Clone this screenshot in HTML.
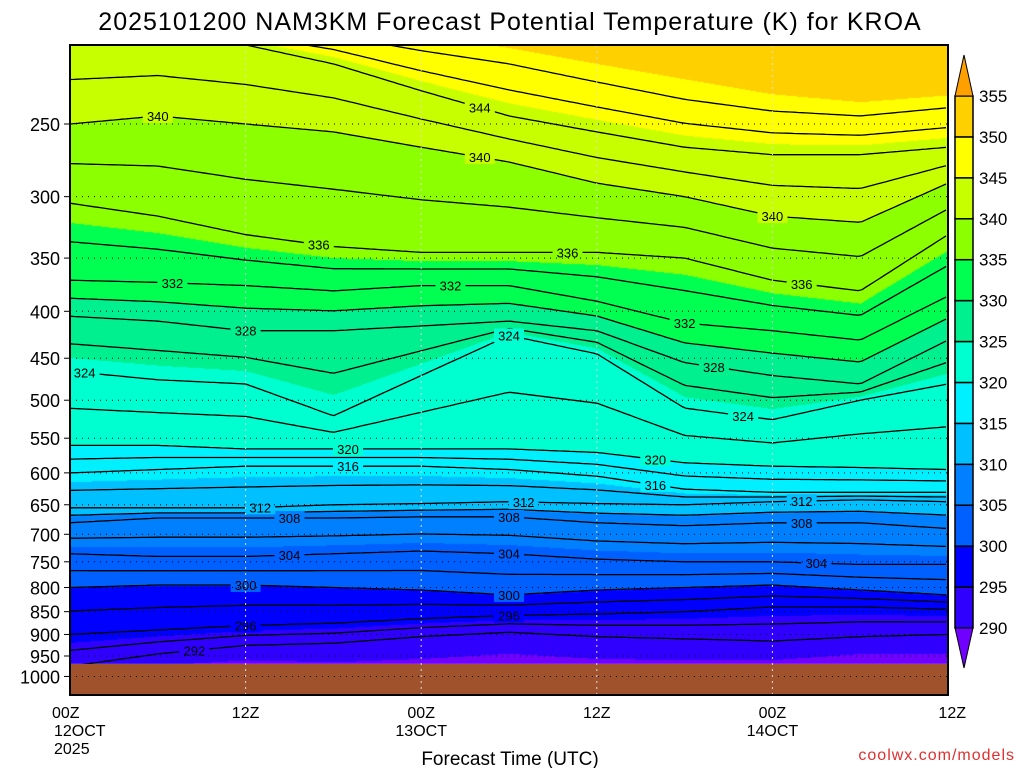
<!DOCTYPE html>
<html><head><meta charset="utf-8"><style>
body{margin:0;background:#fff;width:1024px;height:768px;overflow:hidden;font-family:"Liberation Sans",sans-serif}
#wrap{position:relative;width:1024px;height:768px}
canvas,svg{position:absolute;left:0;top:0}
</style></head><body>
<div id="wrap">
<canvas id="cv" width="1024" height="768"></canvas>
<svg id="sv" width="1024" height="768"></svg>
</div>
<script>
// ---- data ----
const hours = [0,6,12,18,24,30,36,42,48,54,60];
const levels = [284,288,292,296,300,304,308,312,316,320,324,328,332,336,340,344,348,352,360];
const p284 = [1100,1100,1100,1100,1100,1100,1100,1100,1100,1100,1100];
const p288 = [1010,1000,995,1010,1010,995,1010,1010,1005,985,990];
const p292 = [975,945,925,920,905,895,905,910,915,905,900];
const p296 = [900,890,880,875,865,858,855,850,840,840,845];
const p300 = [800,795,795,800,805,815,805,800,795,805,815];
const p304 = [735,740,740,735,730,735,745,750,750,755,755];
const p308 = [680,672,672,672,670,670,680,685,680,680,690];
const p312 = [655,655,655,650,648,645,648,650,645,642,645];
const p316 = [600,595,590,590,590,595,605,625,630,630,630];
const p320 = [560,560,565,565,565,565,570,585,590,592,595];
const p324 = [465,475,480,520,470,425,445,510,525,500,480];
const p328 = [405,410,420,420,415,410,420,455,470,480,430];
const p332 = [370,372,375,380,375,375,390,412,420,430,385];
const p336 = [305,315,330,340,345,345,345,350,370,380,330];
const p340 = [250,245,250,255,265,275,290,300,315,320,290];
const p344 = [200,200,205,215,230,245,255,265,270,270,265];
const p348 = [190,190,195,200,208,215,225,235,242,245,240];
const p352 = [180,180,185,188,192,198,205,212,222,228,225];
const p360 = [150,150,150,150,150,150,150,150,150,150,150];
const levelP = [p284,p288,p292,p296,p300,p304,p308,p312,p316,p320,p324,p328,p332,p336,p340,p344,p348,p352,p360];
const pTicks = [250,300,350,400,450,500,550,600,650,700,750,800,850,900,950,1000];
const xTicks = ["00Z","12Z","00Z","12Z","00Z","12Z"];
const xDates = ["12OCT","","13OCT","","14OCT",""];
const cbVals = [290,295,300,305,310,315,320,325,330,335,340,345,350,355];
const cbColors = ["#7000ff","#3000ff","#0000ff","#0060ff","#0080ff","#00c0ff","#00f0ff","#00ffd0","#00f090","#00ff50","#8cff00","#c8ff00","#ffff00","#ffd000","#ffa000"];
const labelLevels = [292,296,300,304,308,312,316,320,324,328,332,336,340,344];
const labelHours = [[8.5],[12,30],[12,30],[15,30,51],[15,30,50],[13,31,50],[19,40],[19,40],[1,30,46],[12,44],[7,26,42],[17,34,50],[6,28,48],[28]];

// ---- axes ----
const X0=70,X1=948,Y0=45,GROUND=664,YB=695;
const xs = t => X0 + t*(X1-X0)/60;
const ys = p => 124 + (Math.log(p)-Math.log(250))*398.5;
const pOfY = y => Math.exp(Math.log(250)+(y-124)/398.5);

function lnpAt(li,t){
  const a=levelP[li];
  let i=Math.min(Math.floor(t/6),hours.length-2);
  const f=(t-hours[i])/6;
  return Math.log(a[i])*(1-f)+Math.log(a[i+1])*f;
}
function colorFor(th){
  let k=0; while(k<cbVals.length && th>=cbVals[k]) k++;
  return cbColors[k];
}
function hex(c){return [parseInt(c.substr(1,2),16),parseInt(c.substr(3,2),16),parseInt(c.substr(5,2),16)];}

// ---- field ----
const cv=document.getElementById('cv'),ctx=cv.getContext('2d');
ctx.fillStyle='#fff';ctx.fillRect(0,0,1024,768);
const img=ctx.createImageData(X1-X0,GROUND-Y0);
const rgbs=cbColors.map(hex);
for(let x=X0;x<X1;x++){
  const t=(x-X0)*60/(X1-X0);
  const lp=levels.map((_,i)=>lnpAt(i,t));
  for(let y=Y0;y<GROUND;y++){
    const l=Math.log(pOfY(y));
    let th;
    if(l>=lp[0]) th=levels[0];
    else if(l<=lp[lp.length-1]) th=levels[levels.length-1];
    else{
      let j=0; while(!(l<=lp[j]&&l>=lp[j+1])) j++;
      const f=(lp[j]-l)/(lp[j]-lp[j+1]);
      th=levels[j]+f*(levels[j+1]-levels[j]);
    }
    let k=0; while(k<cbVals.length && th>=cbVals[k]) k++;
    const c=rgbs[k],o=((y-Y0)*(X1-X0)+(x-X0))*4;
    img.data[o]=c[0];img.data[o+1]=c[1];img.data[o+2]=c[2];img.data[o+3]=255;
  }
}
ctx.putImageData(img,X0,Y0);

// ---- svg overlay ----
const NS="http://www.w3.org/2000/svg",sv=document.getElementById('sv');
function el(tag,attrs,parent){const e=document.createElementNS(NS,tag);for(const k in attrs)e.setAttribute(k,attrs[k]);(parent||sv).appendChild(e);return e;}

const clip=el('clipPath',{id:'pc'});el('rect',{x:X0,y:Y0,width:X1-X0,height:GROUND-Y0},clip);
const lg=el('g',{'clip-path':'url(#pc)'});


function contourPath(fn){
  let d='';
  for(let x=X0;x<=X1;x+=4){const t=(x-X0)*60/(X1-X0);d+=(x===X0?'M':'L')+x+','+ys(Math.exp(fn(t))).toFixed(1);}
  return d;
}
for(let i=2;i<levels.length-2;i++){
  const c=el('path',{d:contourPath(t=>lnpAt(i,t)),fill:'none',stroke:'#000','stroke-width':1.3},lg);
  
  
  if(i+1<levels.length-2){
    const m=el('path',{d:contourPath(t=>(lnpAt(i,t)+lnpAt(i+1,t))/2),fill:'none',stroke:'#000','stroke-width':1.3},lg);
    
    
  }
}
// labels
labelLevels.forEach((lv,k)=>{
  const li=levels.indexOf(lv);
  labelHours[k].forEach(t=>{
    const x=xs(t),y=ys(Math.exp(lnpAt(li,t)));
    const th=lv+0.5;
    el('rect',{x:x-15,y:y-7,width:30,height:14,fill:colorFor(th)},lg);
    const tx=el('text',{x:x,y:y+5,'font-size':13,'text-anchor':'middle',fill:'#000'},lg);
    tx.textContent=lv;
    
    
  });
});
// ground
const gr=el('rect',{x:X0,y:GROUND,width:X1-X0,height:YB-GROUND,fill:'#a0522d'});


// grid
pTicks.forEach(p=>{
  const y=ys(p);
  const g=el('line',{x1:X0,x2:X1,y1:y,y2:y,stroke:'#000','stroke-width':1,'stroke-dasharray':'1 5'});
  
  
  el('line',{x1:X0-6,x2:X0,y1:y,y2:y,stroke:'#000'});
  const t=el('text',{x:60,y:y+7,'font-size':18,'text-anchor':'end',fill:'#000'});
  t.textContent=p;
  
  
});
xTicks.forEach((lab,i)=>{
  const x=xs(i*12);
  if(i>0&&i<5){const g=el('line',{x1:x,x2:x,y1:Y0,y2:YB,stroke:'#ddd','stroke-width':1,'stroke-dasharray':'2 4'});
    
    }
  const anchor=i===0?'start':(i===5?'end':'middle');
  const xx=i===0?52:(i===5?966:x);
  const t=el('text',{x:xx,y:718,'font-size':16,'text-anchor':anchor,fill:'#000'});
  t.textContent=lab;
  
  
  if(xDates[i]){const d=el('text',{x:i===0?54:x,y:736,'font-size':16,'text-anchor':anchor,fill:'#000'});d.textContent=xDates[i];
    
    }
});
const yr=el('text',{x:54,y:754,'font-size':16,fill:'#000'});yr.textContent='2025';


const fr=el('rect',{x:X0,y:Y0,width:X1-X0,height:YB-Y0,fill:'none',stroke:'#000','stroke-width':2});


// colorbar
const CB0=955,CBW=18,CBT=96,CBB=628,bh=(CBB-CBT)/13;
const cby=v=>CBB-(v-290)*bh/5;
for(let k=0;k<13;k++){
  const r=el('rect',{x:CB0,y:cby(cbVals[k+1]),width:CBW,height:bh,fill:cbColors[k+1],stroke:'#000','stroke-width':1.5});
  
  
}
const tt=el('polygon',{points:`${CB0},${CBT} ${CB0+CBW},${CBT} ${CB0+CBW/2},55`,fill:cbColors[14],stroke:'#000','stroke-width':1});


const tb=el('polygon',{points:`${CB0},${CBB} ${CB0+CBW},${CBB} ${CB0+CBW/2},668`,fill:cbColors[0],stroke:'#000','stroke-width':1});


cbVals.forEach(v=>{
  const t=el('text',{x:979,y:cby(v)+6,'font-size':17,fill:'#000'});
  t.textContent=v;
  
  
});
// titles
const ti=el('text',{x:510,y:30,'font-size':25,'text-anchor':'middle',fill:'#000','letter-spacing':'1'});
ti.textContent='2025101200 NAM3KM Forecast Potential Temperature (K) for KROA';


const xt=el('text',{x:510,y:765,'font-size':19,'text-anchor':'middle',fill:'#000'});
xt.textContent='Forecast Time (UTC)';


const cr=el('text',{x:1015,y:760,'font-size':16,'text-anchor':'end',fill:'#e03030','letter-spacing':'1'});
cr.textContent='coolwx.com/models';


</script>
</body></html>
